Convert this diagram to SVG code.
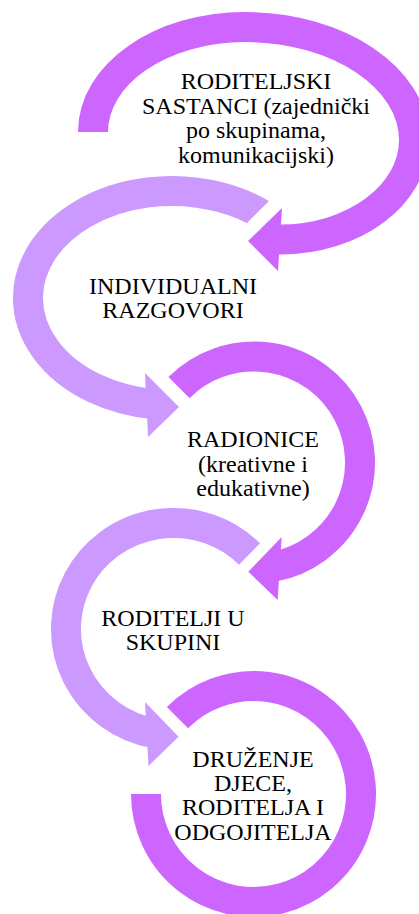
<svg xmlns="http://www.w3.org/2000/svg" width="419" height="914" viewBox="0 0 419 914">
  <style>
    .dark { stroke: #CC66FF; }
    .light { stroke: #CC99FF; }
    .band { fill: none; stroke-width: 30; stroke-linecap: butt; }
    .headDark { fill: #CC66FF; }
    .headLight { fill: #CC99FF; }
    .label { font-family: "Liberation Serif", "Times New Roman", serif; font-size: 24px; fill: #000000; text-anchor: middle; }
  </style>
  <defs>
    <clipPath id="cut2">
      <path clip-rule="evenodd" d="M0,0H419V914H0Z M290,180 L225,245 L265,285 L330,220 Z"/>
    </clipPath>
  </defs>
  <rect width="419" height="914" fill="#FFFFFF"/>

  <g id="node1">
    <path class="band dark" d="M93,132 C93,74 161,27 245,27 C338,27 414,77.6 414,140 C414,195 354,239.5 280,239.5 L274,239.7"/>
    <polygon class="headDark" points="282,208 248,241 278,271"/>
    <text class="label" x="256" y="89.3">RODITELJSKI</text>
    <text class="label" x="256" y="113.7">SASTANCI (zajednički</text>
    <text class="label" x="256" y="138.1">po skupinama,</text>
    <text class="label" x="256" y="162.5">komunikacijski)</text>
  </g>

  <g id="node2">
    <path class="band light" clip-path="url(#cut2)" d="M273.82,222.34 A144,107 0 1 0 154.45,404.2"/>
    <polygon class="headLight" points="145,373 179,407 148,437"/>
    <text class="label" x="173" y="294">INDIVIDUALNI</text>
    <text class="label" x="173" y="318.3">RAZGOVORI</text>
  </g>

  <g id="node3">
    <path class="band dark" d="M179.05,387.55 A106,106 0 1 1 274.2,566.55"/>
    <polygon class="headDark" points="281.7,537 248.3,571.7 277.7,600"/>
    <text class="label" x="253" y="447.3">RADIONICE</text>
    <text class="label" x="253" y="471.7">(kreativne i</text>
    <text class="label" x="253" y="496">edukativne)</text>
  </g>

  <g id="node4">
    <path class="band light" d="M249.5,554.05 A107.5,106 0 1 0 153.9,733.2"/>
    <polygon class="headLight" points="145,702 178.5,736.7 148.5,766"/>
    <text class="label" x="173" y="625.7">RODITELJI U</text>
    <text class="label" x="173" y="650">SKUPINI</text>
  </g>

  <g id="node5">
    <path class="band dark" d="M177.5,717.6 A107.5,108 0 1 1 146,794"/>
    <text class="label" x="253" y="766.7">DRUŽENJE</text>
    <text class="label" x="253" y="791">DJECE,</text>
    <text class="label" x="253" y="815.4">RODITELJA I</text>
    <text class="label" x="253" y="839.8">ODGOJITELJA</text>
  </g>

  <g id="connectors"></g>
</svg>
